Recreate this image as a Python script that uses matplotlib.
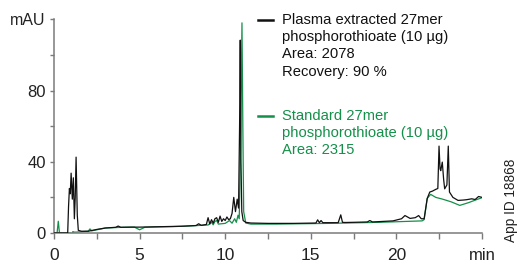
import matplotlib
matplotlib.use("Agg")
import matplotlib.pyplot as plt
from matplotlib.lines import Line2D

plt.rcParams['font.family'] = ['Liberation Sans', 'DejaVu Sans']

# ---- data ----
plasma_t = [0, 0.8, 0.85, 0.9, 0.95, 1.0, 1.07, 1.13, 1.19, 1.24, 1.29, 1.36, 1.42, 1.6, 2.0,
            2.5, 3.0, 3.6, 3.75, 3.9, 4.5, 5.0, 5.5, 6.5, 7.5, 8.3, 8.45, 8.6, 8.9, 9.0, 9.1,
            9.2, 9.3, 9.4, 9.5, 9.6, 9.7, 9.8, 9.9, 10.0, 10.1, 10.2, 10.3, 10.4, 10.5, 10.6,
            10.7, 10.78, 10.84, 10.88, 10.92, 10.97, 11.05, 11.2, 11.5, 12.5, 14.0, 15.3, 15.4,
            15.5, 15.6, 15.7, 16.6, 16.75, 16.85, 17.0, 17.5, 18.3, 18.45, 18.6, 19.0, 19.8,
            20.3, 20.5, 20.8, 21.1, 21.3, 21.45, 21.62, 21.8, 21.95, 22.1, 22.3, 22.42, 22.49,
            22.55, 22.59, 22.68, 22.76, 22.82, 22.95, 23.03, 23.1, 23.3, 23.6, 23.9, 24.1, 24.4,
            24.6, 24.8, 25.0]
plasma_v = [0, 0, 15, 25, 22, 33.6, 19, 31, 8, 20, 42.6, 10, 1.5, 1.0, 1.0,
            2.0, 2.8, 3.2, 3.9, 3.2, 3.3, 3.3, 3.4, 3.6, 3.8, 4.2, 5.2, 4.3, 4.8, 8.6, 5.0,
            7.5, 5.5, 8.0, 8.6, 6.0, 9.5, 6.5, 8.0, 7.0, 9.0, 7.5, 8.0, 11.0, 20.0, 12.0,
            19.0, 14.0, 60.0, 108.3, 40.0, 12.0, 7.0, 6.0, 5.6, 5.4, 5.4, 5.6, 7.4,
            5.8, 7.0, 5.8, 5.8, 10.2, 6.0, 5.9, 6.0, 6.2, 7.0, 6.2, 6.4, 6.8,
            8.0, 9.8, 8.2, 8.6, 9.8, 8.0, 8.0, 19.4, 23.0, 23.5, 24.5, 25.0, 48.8,
            36.0, 35.0, 39.8, 30.0, 24.8, 27.0, 48.8, 23.0, 20.0, 18.3, 18.5, 18.7, 19.2,
            18.8, 20.5, 20.0]

standard_t = [0, 0.18, 0.25, 0.32, 1.0, 1.06, 1.1, 1.15, 1.3, 2.0, 2.1, 2.2, 2.6, 3.0, 4.0,
              4.7, 5.0, 5.3, 6.0, 7.0, 8.0, 9.0, 9.2, 9.3, 9.4, 9.5, 9.6, 9.8, 10.0, 10.25,
              10.4, 10.55, 10.65, 10.75, 10.82, 10.9, 10.98, 11.03, 11.08, 11.2, 11.5, 13.0,
              16.0, 19.0, 21.5, 21.62, 21.8, 22.0, 22.3, 22.7, 23.2, 23.7, 24.2, 24.7, 25.0]
standard_v = [0, 0, 6.6, 0, 0, -1.4, 0.8, 0.5, 0.5, 1.0, 2.3, 1.2, 2.0, 2.8, 3.2,
              3.3, 1.8, 3.2, 3.4, 3.6, 4.0, 4.5, 6.0, 4.6, 6.5, 7.0, 5.0, 5.2, 5.4, 7.0,
              5.5, 8.0, 6.0, 10.0, 8.0, 50.0, 118.0, 60.0, 12.0, 5.6, 5.0, 5.0,
              5.4, 6.0, 6.8, 7.5, 19.4, 21.7, 20.0, 19.0, 17.5, 15.5, 17.0, 18.8, 19.8]

x_ticks = [0, 2.5, 5, 7.5, 10, 12.5, 15, 17.5, 20, 22.5, 25]
x_labels = ['0', '', '5', '', '10', '', '15', '', '20', '', 'min']
y_ticks = [0, 20, 40, 60, 80, 100, 120]
y_labels = ['0', '', '40', '', '80', '', 'mAU']

plasma_text = ['Plasma extracted 27mer', 'phosphorothioate (10 µg)', 'Area: 2078', 'Recovery: 90 %']
standard_text = ['Standard 27mer', 'phosphorothioate (10 µg)', 'Area: 2315']

GREEN = '#14904a'
BLACK = '#111111'
GRAY = '#7a7a7a'

W, H = 519, 263
fig = plt.figure(figsize=(W / 100, H / 100), dpi=100)
ax = fig.add_axes([54 / W, 1 - 233 / H, (482 - 54) / W, (233 - 19.3) / H])

ax.plot(standard_t, standard_v, color=GREEN, lw=0.9, zorder=2)
ax.plot(plasma_t, plasma_v, color=BLACK, lw=0.9, zorder=3)

ax.set_xlim(0, 25)
ax.set_ylim(0, 120)
for s in ['top', 'right']:
    ax.spines[s].set_visible(False)
for s in ['left', 'bottom']:
    ax.spines[s].set_color(GRAY)
    ax.spines[s].set_linewidth(1.1)

ax.set_xticks(x_ticks)
ax.set_xticklabels(x_labels, fontsize=12.5)
ax.set_yticks(y_ticks)
ax.set_yticklabels(y_labels, fontsize=12)
ax.get_yticklabels()[-1].set_fontsize(11.5)
ax.get_xticklabels()[-1].set_fontsize(12)
ax.tick_params(axis='x', length=4.5, width=1.0, color=GRAY, pad=6.5, labelcolor='#222222')
ax.tick_params(axis='y', length=3, width=1.0, color=GRAY, pad=3, labelcolor='#222222')
ax.patch.set_alpha(0)


def fx(px):
    return px / W


def fy(py):
    return 1 - py / H


# legend block
fig.add_artist(Line2D([fx(258), fx(273)], [fy(19.5), fy(19.5)], color=BLACK, lw=1.8))
for i, line in enumerate(plasma_text):
    fig.text(fx(282), fy(24 + 17.2 * i), line, fontsize=10.6, color=BLACK, va='baseline', ha='left')

fig.add_artist(Line2D([fx(258), fx(273)], [fy(116), fy(116)], color=GREEN, lw=1.8))
for i, line in enumerate(standard_text):
    fig.text(fx(282), fy(119.5 + 17.2 * i), line, fontsize=10.6, color=GREEN, va='baseline', ha='left')

fig.text(fx(511), fy(200), 'App ID 18868', rotation=90, fontsize=9.8, color='#222222',
         ha='center', va='center')

fig.savefig('out.png', dpi=100)
